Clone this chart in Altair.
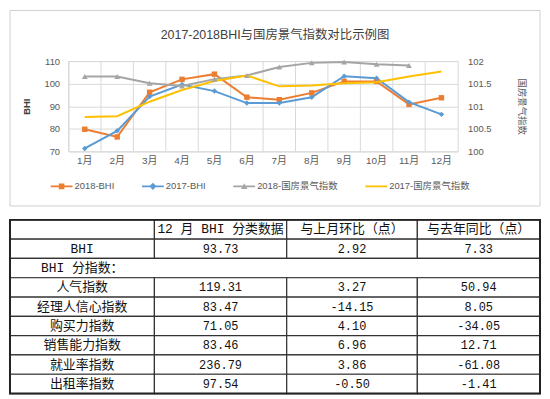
import altair as alt
import pandas as pd

# ---------------- data ----------------
months = ["1月", "2月", "3月", "4月", "5月", "6月", "7月", "8月", "9月", "10月", "11月", "12月"]
bhi_2018 = [79.8, 76.4, 96.2, 101.9, 104.2, 94.0, 92.9, 95.9, 101.0, 101.0, 90.81, 93.73]
bhi_2017 = [71.3, 79.1, 94.3, 99.6, 96.7, 91.4, 91.4, 94.0, 103.3, 102.4, 91.8, 86.40]
gf_2018 = [101.66, 101.66, 101.51, 101.45, 101.60, 101.68, 101.87, 101.96, 101.98, 101.93, 101.90, None]
gf_2017 = [100.76, 100.78, 101.10, 101.36, 101.56, 101.68, 101.44, 101.46, 101.51, 101.53, 101.66, 101.77]
series_names = ["2018-BHI", "2017-BHI", "2018-国房景气指数", "2017-国房景气指数"]

table_headers = ["12 月 BHI 分类数据", "与上月环比（点）", "与去年同比（点）"]
table_row_labels = ["BHI", "BHI 分指数：", "人气指数", "经理人信心指数", "购买力指数",
                    "销售能力指数", "就业率指数", "出租率指数"]
dec_values = [93.73, None, 119.31, 83.47, 71.05, 83.46, 236.79, 97.54]
mom_change = [2.92, None, 3.27, -14.15, 4.10, 6.96, 3.86, -0.50]
yoy_change = [7.33, None, 50.94, 8.05, -34.05, 12.71, -61.08, -1.41]

# ---------------- styles ----------------
COLORS = ["#ED7D31", "#5B9BD5", "#A5A5A5", "#FFC000"]
MARKERS = ["square", "diamond", "triangle-up", None]
LEGEND_PATHS = [
    "M-1.1,-0.09H1.1V0.09H-1.1Z M-0.28,-0.28H0.28V0.28H-0.28Z",
    "M-1.1,-0.09H1.1V0.09H-1.1Z M0,-0.36L0.36,0L0,0.36L-0.36,0Z",
    "M-1.1,-0.09H1.1V0.09H-1.1Z M0,-0.32L0.32,0.26H-0.32Z",
    "M-1.1,-0.09H1.1V0.09H-1.1Z",
]
GRID = "#d9d9d9"
TXT = "#595959"
FONT = "Liberation Sans, Noto Sans CJK SC, sans-serif"
TFONT = "Liberation Mono, Noto Sans CJK SC, monospace"


def long_df(names, arrays, markers):
    recs = []
    for n, arr, mk in zip(names, arrays, markers):
        for m, v in zip(months, arr):
            recs.append({"month": m, "value": v, "series": n, "marker": mk})
    return pd.DataFrame(recs)


bhi_df = long_df(series_names[:2], [bhi_2018, bhi_2017], MARKERS[:2])
gf_df = long_df(series_names[2:], [gf_2018, gf_2017], MARKERS[2:])

W, H = 392, 91
LEFT_PAD, RIGHT_PAD, TOP_PAD, BOTTOM_PAD = 59, 83, 51, 55

leg = alt.Legend(orient="none", legendX=-17, legendY=116, direction="horizontal", title=None,
                 symbolSize=400, symbolStrokeWidth=0, symbolOpacity=1, labelFontSize=9.5,
                 labelColor=TXT, labelFont=FONT, columnPadding=27, labelOffset=3, padding=0)
cscale = alt.Scale(domain=series_names, range=COLORS)
color_enc = alt.Color("series:N", scale=cscale, legend=leg)

xscale = alt.Scale(type="band", domain=months, paddingInner=0, paddingOuter=0)
xaxis = alt.Axis(title=None, labelAngle=0, domain=False, ticks=False, grid=False,
                 labelPadding=4, labelFontSize=10, labelColor=TXT, labelFont=FONT)

yl_scale = alt.Scale(domain=[70, 110], nice=False, zero=False)
yl_axis = alt.Axis(title="BHI", values=[70, 80, 90, 100, 110], grid=True, gridColor=GRID,
                   domain=False, ticks=False, labelPadding=9, labelFontSize=9.5,
                   labelColor=TXT, labelFont=FONT, titleFont=FONT, titleFontSize=9.5,
                   titleFontWeight="bold", titleColor="#404040", titlePadding=12)
yr_scale = alt.Scale(domain=[100, 102], nice=False, zero=False)
yr_axis = alt.Axis(orient="right", title="国房景气指数", titleAngle=90,
                   values=[100, 100.5, 101, 101.5, 102], format="~g", grid=False,
                   domain=False, ticks=False, labelPadding=10, labelFontSize=9.5,
                   labelColor=TXT, labelFont=FONT, titleFont=FONT, titleFontSize=9.5,
                   titleFontWeight="normal", titleColor=TXT, titlePadding=26)

frame = alt.Chart(pd.DataFrame({"k": [0]})).mark_rect(
    fill="transparent", stroke="#d0d0d0", strokeWidth=1
).encode(x=alt.value(-LEFT_PAD), x2=alt.value(W + RIGHT_PAD),
         y=alt.value(-TOP_PAD), y2=alt.value(H + BOTTOM_PAD))

legend_layer = alt.Chart(pd.DataFrame({"series": series_names})).mark_point(
    filled=True, opacity=0
).encode(
    color=color_enc,
    shape=alt.Shape("series:N", scale=alt.Scale(domain=series_names, range=LEGEND_PATHS), legend=leg),
)

vgrid = alt.Chart(pd.DataFrame({"month": months})).mark_rule(
    color=GRID, strokeWidth=1
).encode(x=alt.X("month:O", scale=xscale, axis=xaxis, bandPosition=0))

line_bhi = alt.Chart(bhi_df).mark_line(strokeWidth=2).encode(
    x=alt.X("month:O", scale=xscale, axis=xaxis),
    y=alt.Y("value:Q", scale=yl_scale, axis=yl_axis),
    color=color_enc,
)
pts_bhi = alt.Chart(bhi_df).mark_point(filled=True, size=30, opacity=1).encode(
    x=alt.X("month:O", scale=xscale, axis=xaxis),
    y=alt.Y("value:Q", scale=yl_scale, axis=yl_axis),
    color=color_enc,
    shape=alt.Shape("marker:N", scale=None, legend=None),
)
line_gf = alt.Chart(gf_df).mark_line(strokeWidth=2).encode(
    x=alt.X("month:O", scale=xscale, axis=xaxis),
    y=alt.Y("value:Q", scale=yr_scale, axis=yr_axis),
    color=color_enc,
)
pts_gf = alt.Chart(gf_df).transform_filter(
    "datum.marker != null && datum.value != null"
).mark_point(filled=True, size=34, opacity=1).encode(
    x=alt.X("month:O", scale=xscale, axis=xaxis),
    y=alt.Y("value:Q", scale=yr_scale, axis=yr_axis),
    color=color_enc,
    shape=alt.Shape("marker:N", scale=None, legend=None),
)

left = alt.layer(vgrid, line_bhi, pts_bhi)
right = alt.layer(line_gf, pts_gf)
top = alt.layer(frame, legend_layer, left, right).resolve_scale(y="independent").properties(
    width=W, height=H,
    title=alt.Title("2017-2018BHI与国房景气指数对比示例图", fontSize=12.5, font=FONT,
                    fontWeight="normal", color="#404040", offset=-32, anchor="middle",
                    frame="bounds"),
)

# ---------------- table ----------------
ncols = 1 + len(table_headers)
nrows = 1 + len(table_row_labels)
cells, texts = [], []
for c in range(ncols):
    cells.append({"x0": c, "x1": c + 1, "y0": 0, "y1": 1})
for c, h in enumerate(table_headers, start=1):
    texts.append({"xc": c + 0.5, "yc": 0.5, "text": h, "kind": "label"})
for i, lab in enumerate(table_row_labels):
    r = i + 1
    vals = [dec_values[i], mom_change[i], yoy_change[i]]
    if all(v is None for v in vals):
        cells.append({"x0": 0, "x1": ncols, "y0": r, "y1": r + 1})
    else:
        for c in range(ncols):
            cells.append({"x0": c, "x1": c + 1, "y0": r, "y1": r + 1})
        for c, v in enumerate(vals, start=1):
            texts.append({"xc": c + 0.5, "yc": r + 0.5, "text": f"{v:.2f}", "kind": "num"})
    texts.append({"xc": 0.5, "yc": r + 0.5, "text": lab, "kind": "label"})

cells_df = pd.DataFrame(cells)
texts_df = pd.DataFrame(texts)
outer_df = pd.DataFrame([{"x0": 0, "x1": ncols, "y0": 0, "y1": nrows}])

TH = 175
# the table spans the full frame width: from the frame's left edge to its right edge
x0 = -LEFT_PAD
tx = alt.Scale(domain=[0, 1, 2, 3, 4],
               range=[x0, x0 + 145.5, x0 + 278.8, x0 + 410.4, W + RIGHT_PAD],
               nice=False, zero=False)
ty = alt.Scale(domain=[0, nrows], range=[0, TH], nice=False, zero=False)

cell_layer = alt.Chart(cells_df).mark_rect(fill="white", stroke="#333333", strokeWidth=1.2).encode(
    x=alt.X("x0:Q", scale=tx, axis=None), x2="x1:Q",
    y=alt.Y("y0:Q", scale=ty, axis=None), y2="y1:Q",
)
outer_layer = alt.Chart(outer_df).mark_rect(fill="transparent", stroke="#222222", strokeWidth=2).encode(
    x=alt.X("x0:Q", scale=tx, axis=None), x2="x1:Q",
    y=alt.Y("y0:Q", scale=ty, axis=None), y2="y1:Q",
)
label_layer = alt.Chart(texts_df).transform_filter("datum.kind == 'label'").mark_text(
    font=TFONT, fontSize=13, color="#111111", baseline="middle", align="center"
).encode(x=alt.X("xc:Q", scale=tx, axis=None), y=alt.Y("yc:Q", scale=ty, axis=None), text="text:N")
num_layer = alt.Chart(texts_df).transform_filter("datum.kind == 'num'").mark_text(
    font=TFONT, fontSize=12, color="#111111", baseline="middle", align="center"
).encode(x=alt.X("xc:Q", scale=tx, axis=None), y=alt.Y("yc:Q", scale=ty, axis=None), text="text:N")

table = alt.layer(cell_layer, outer_layer, label_layer, num_layer).properties(
    width=W, height=TH, view=alt.ViewBackground(stroke="transparent")
)

chart = alt.vconcat(top, table, spacing=11).properties(padding=0).configure_view(stroke=GRID)

chart.save("out.html", embed_options={"renderer": "svg", "actions": False})
